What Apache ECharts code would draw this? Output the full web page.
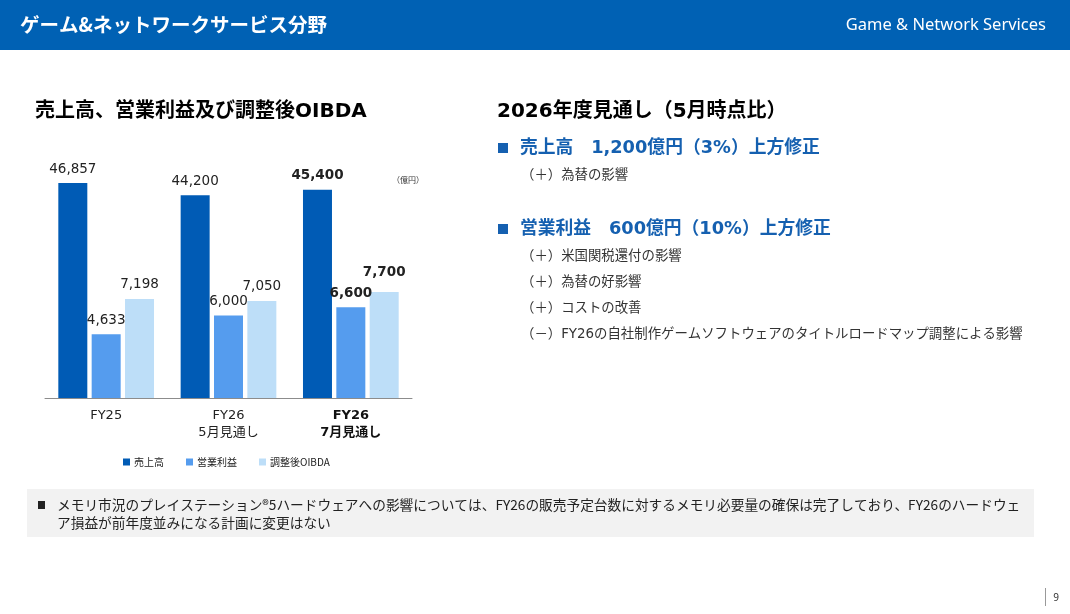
<!DOCTYPE html>
<html><head><meta charset="utf-8">
<script src="https://cdn.jsdelivr.net/npm/echarts@6.0.0/dist/echarts.min.js"></script>
<style>html,body{margin:0;padding:0;background:#fff}#c{width:1070px;height:614px}</style>
</head><body><div id="c"></div>
<script>
const categories = ['FY25', 'FY26\n5月見通し', 'FY26\n7月見通し'];
const seriesNames = ['売上高', '営業利益', '調整後OIBDA'];
const revenue = [46857, 44200, 45400];
const operatingIncome = [4633, 6000, 6600];
const adjustedOIBDA = [7198, 7050, 7700];
const unitLabel = '（億円）';

const JP = "'DejaVu Sans','Noto Sans CJK JP',sans-serif";
const CJK = "'Noto Sans CJK JP',sans-serif";
const colors = ['#005BB5', '#559CEE', '#BDDEF8'];

function fmt(v) { return Number(v).toLocaleString('en-US'); }
function items(arr, extra) {
  return arr.map((v, i) => {
    if (i === 2) {
      const lab = Object.assign({ fontWeight: 'bold' }, extra || {});
      return { value: v, label: lab };
    }
    return v;
  });
}

function txt(x, y, text, font, fill, align) {
  return { type: 'text', x: x, y: y, silent: true,
    style: { text: text, font: font, fill: fill, textAlign: align || 'left', textVerticalAlign: 'middle' } };
}

const graphics = [
  { type: 'rect', shape: { x: 0, y: 0, width: 1070, height: 50 }, style: { fill: '#0061B4' }, silent: true },
  txt(20, 25, 'ゲーム&ネットワークサービス分野', "bold 19.5px " + CJK, '#ffffff'),
  txt(1046, 25, 'Game & Network Services', "16.5px 'Noto Sans',sans-serif", '#ffffff', 'right'),
  txt(35, 112, '売上高、営業利益及び調整後OIBDA', "bold 20px " + JP, '#000000'),
  txt(408, 180, unitLabel, "8px " + CJK, '#333333', 'center'),
  txt(497, 112, '2026年度見通し（5月時点比）', "bold 20px " + JP, '#000000'),
  { type: 'rect', shape: { x: 498, y: 143, width: 10, height: 10 }, style: { fill: '#1560B0' }, silent: true },
  txt(520, 148, '売上高　1,200億円（3%）上方修正', "bold 17.8px " + JP, '#1560B0'),
  txt(521, 176, '（＋）為替の影響', "13.4px " + JP, '#333333'),
  { type: 'rect', shape: { x: 498, y: 224, width: 10, height: 10 }, style: { fill: '#1560B0' }, silent: true },
  txt(520, 229, '営業利益　600億円（10%）上方修正', "bold 17.8px " + JP, '#1560B0'),
  txt(521, 257, '（＋）米国関税還付の影響', "13.4px " + JP, '#333333'),
  txt(521, 283, '（＋）為替の好影響', "13.4px " + JP, '#333333'),
  txt(521, 309, '（＋）コストの改善', "13.4px " + JP, '#333333'),
  txt(521, 335, '（－）FY26の自社制作ゲームソフトウェアのタイトルロードマップ調整による影響', "13.4px " + JP, '#333333'),
  { type: 'rect', shape: { x: 27, y: 489, width: 1007, height: 48 }, style: { fill: '#F2F2F2' }, silent: true },
  { type: 'rect', shape: { x: 38, y: 501, width: 7, height: 8 }, style: { fill: '#222222' }, silent: true },
  txt(57, 505, 'メモリ市況のプレイステーション®5ハードウェアへの影響については、FY26の販売予定台数に対するメモリ必要量の確保は完了しており、FY26のハードウェ', "13.7px " + CJK, '#222222'),
  txt(57, 523, 'ア損益が前年度並みになる計画に変更はない', "13.7px " + CJK, '#222222'),
  { type: 'rect', shape: { x: 1045, y: 588, width: 1, height: 18 }, style: { fill: '#999999' }, silent: true },
  txt(1056, 598, '9', "10px 'Noto Sans',sans-serif", '#333333', 'center')
];

const labelBase = { show: true, position: 'top', distance: 7, fontSize: 13.5, fontFamily: "'DejaVu Sans',sans-serif", color: '#222222', formatter: p => fmt(p.value) };

const chart = echarts.init(document.getElementById('c'), null, { renderer: 'canvas' });
chart.setOption({
  animation: false,
  backgroundColor: '#ffffff',
  graphic: graphics,
  grid: { left: 45, top: 164, width: 367, height: 234, containLabel: false },
  legend: {
    left: 118, top: 452, itemWidth: 7, itemHeight: 7, itemGap: 22, icon: 'rect',
    textStyle: { fontSize: 10, fontFamily: CJK, color: '#222222', padding: [0, 0, 0, -1] },
    data: seriesNames
  },
  xAxis: {
    type: 'category', data: categories,
    axisLine: { lineStyle: { color: '#8C8C8C', width: 1 } },
    axisTick: { show: false },
    axisLabel: {
      margin: 9, interval: 0,
      formatter: (v, i) => {
        const parts = v.split('\n');
        const key = i === 2 ? 'b' : 'n';
        return parts.map(s => '{' + key + '|' + s + '}').join('\n');
      },
      rich: {
        n: { fontSize: 13, lineHeight: 17, fontFamily: JP, color: '#222222' },
        b: { fontSize: 13, lineHeight: 17, fontFamily: JP, color: '#111111', fontWeight: 'bold' }
      }
    }
  },
  yAxis: [
    { type: 'value', min: 0, max: 51000, show: false, splitLine: { show: false } },
    { type: 'value', min: 0, max: 17000, show: false, splitLine: { show: false } }
  ],
  series: [
    { name: seriesNames[0], type: 'bar', yAxisIndex: 0, barWidth: 29, barGap: '15%',
      itemStyle: { color: colors[0] }, label: labelBase, data: items(revenue) },
    { name: seriesNames[1], type: 'bar', yAxisIndex: 1, barWidth: 29, barGap: '15%',
      itemStyle: { color: colors[1] }, label: labelBase, data: items(operatingIncome) },
    { name: seriesNames[2], type: 'bar', yAxisIndex: 1, barWidth: 29, barGap: '15%',
      itemStyle: { color: colors[2] }, label: labelBase, data: items(adjustedOIBDA, { distance: 13 }) }
  ]
});
</script></body></html>
